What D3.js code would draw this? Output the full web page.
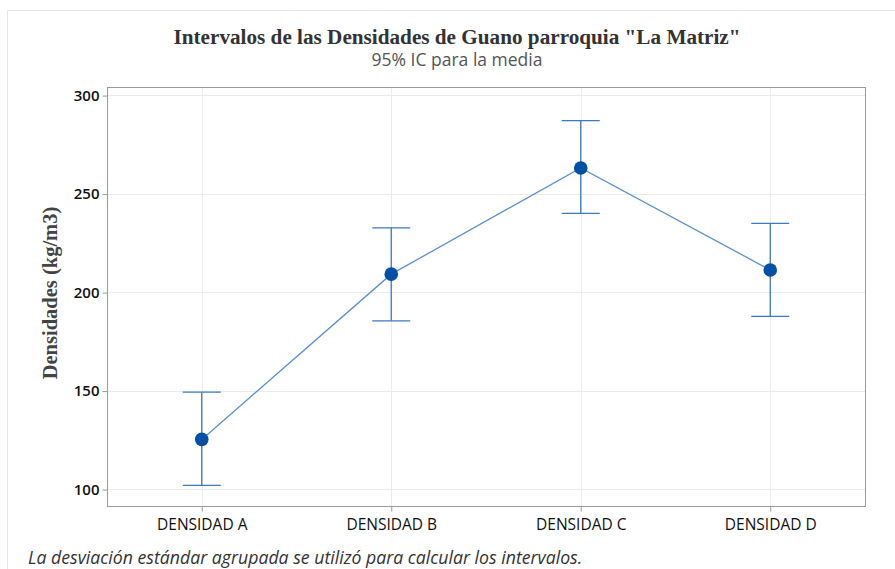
<!DOCTYPE html>
<html>
<head>
<meta charset="utf-8">
<script src="https://cdn.jsdelivr.net/npm/d3@7"></script>
<style>
  body { margin: 0; background: #fff; }
  svg { display: block; }
</style>
</head>
<body>
<svg width="895" height="569"></svg>
<script>
var categories = ["DENSIDAD A", "DENSIDAD B", "DENSIDAD C", "DENSIDAD D"];
var means = [125.2, 209.1, 263.0, 211.2];
var lower = [101.9, 185.4, 239.9, 187.7];
var upper = [149.2, 232.6, 287.0, 234.9];
var yTicks = [100, 150, 200, 250, 300];

var data = categories.map(function(c, i) {
    return { cat: c, mean: means[i], lo: lower[i], hi: upper[i] };
});

var svg = d3.select("svg");
var pLeft = 107, pRight = 865, pTop = 87, pBottom = 506;

// faint outer frame
svg.append("path")
    .attr("d", "M7.5,600 V10.5 H895")
    .style("fill", "none")
    .style("stroke", "#e6e6e6");

var x = d3.scalePoint().domain(categories).range([pLeft, pRight]).padding(0.5);
var y = d3.scaleLinear().domain([91.4, 304.1]).range([pBottom, pTop]);

// gridlines
svg.append("g").selectAll("line")
    .data(yTicks).enter().append("line")
    .attr("x1", pLeft).attr("x2", pRight)
    .attr("y1", function(d) { return Math.round(y(d)) + 0.5; })
    .attr("y2", function(d) { return Math.round(y(d)) + 0.5; })
    .style("stroke", "#ebebeb");
svg.append("g").selectAll("line")
    .data(categories).enter().append("line")
    .attr("y1", pTop).attr("y2", pBottom)
    .attr("x1", function(d) { return Math.round(x(d)) + 0.5; })
    .attr("x2", function(d) { return Math.round(x(d)) + 0.5; })
    .style("stroke", "#ebebeb");

// frame
svg.append("rect")
    .attr("x", pLeft + 0.5).attr("y", pTop + 0.5)
    .attr("width", pRight - pLeft).attr("height", pBottom - pTop)
    .style("fill", "none").style("stroke", "#9a9a9a");

// axes
var yAxis = svg.append("g")
    .attr("transform", "translate(" + (pLeft + 0.5) + ",0.5)")
    .call(d3.axisLeft(y).tickValues(yTicks).tickSize(5).tickPadding(3));
var xAxis = svg.append("g")
    .attr("transform", "translate(0," + (pBottom + 0.5) + ")")
    .call(d3.axisBottom(x).tickSize(5).tickPadding(7));
[yAxis, xAxis].forEach(function(g) {
    g.select(".domain").remove();
    g.selectAll(".tick line").style("stroke", "#9a9a9a");
    g.selectAll("text")
        .style("font-family", "'Open Sans', 'Noto Sans', sans-serif")
        .style("fill", "#111");
});
yAxis.selectAll("text").style("font-weight", "600").style("font-size", "15px");
xAxis.selectAll("text").style("font-weight", "500").style("font-size", "15.5px");

// connecting line
svg.append("path")
    .datum(data)
    .attr("d", d3.line().x(function(d) { return x(d.cat); }).y(function(d) { return y(d.mean); }))
    .style("fill", "none")
    .style("stroke", "#5b8fd0")
    .style("stroke-width", 1.3);

// error bars
var eb = svg.append("g").selectAll("g").data(data).enter().append("g");
eb.append("line")
    .attr("x1", function(d) { return x(d.cat); })
    .attr("x2", function(d) { return x(d.cat); })
    .attr("y1", function(d) { return y(d.lo); })
    .attr("y2", function(d) { return y(d.hi); })
    .style("stroke", "#3d78c2").style("stroke-width", 1.3);
eb.selectAll("line.cap")
    .data(function(d) { return [[d.cat, d.lo], [d.cat, d.hi]]; })
    .enter().append("line")
    .attr("class", "cap")
    .attr("x1", function(d) { return x(d[0]) - 19; })
    .attr("x2", function(d) { return x(d[0]) + 19; })
    .attr("y1", function(d) { return y(d[1]); })
    .attr("y2", function(d) { return y(d[1]); })
    .style("stroke", "#3d78c2").style("stroke-width", 1.3);

// mean points
svg.append("g").selectAll("circle")
    .data(data).enter().append("circle")
    .attr("cx", function(d) { return x(d.cat); })
    .attr("cy", function(d) { return y(d.mean); })
    .attr("r", 6.8)
    .style("fill", "#0050a8");

// titles
svg.append("text")
    .attr("x", 457).attr("y", 44)
    .attr("text-anchor", "middle")
    .style("font-family", "'Liberation Serif', 'Times New Roman', serif")
    .style("font-weight", "bold")
    .style("font-size", "21.2px")
    .style("fill", "#333")
    .text("Intervalos de las Densidades de Guano parroquia \"La Matriz\"");
svg.append("text")
    .attr("x", 457).attr("y", 66)
    .attr("text-anchor", "middle")
    .style("font-family", "'Open Sans', 'Noto Sans', sans-serif")
    .style("font-size", "17.5px")
    .style("fill", "#555")
    .text("95% IC para la media");

svg.append("text")
    .attr("transform", "translate(57," + 293 + ") rotate(-90)")
    .attr("text-anchor", "middle")
    .style("font-family", "'Liberation Serif', 'Times New Roman', serif")
    .style("font-weight", "bold")
    .style("font-size", "20.5px")
    .style("fill", "#444")
    .text("Densidades (kg/m3)");

svg.append("text")
    .attr("x", 28).attr("y", 564)
    .style("font-family", "'Open Sans', 'Noto Sans', sans-serif")
    .style("font-style", "italic")
    .style("font-size", "17.7px")
    .style("fill", "#333")
    .text("La desviación estándar agrupada se utilizó para calcular los intervalos.");
</script>
</body>
</html>
